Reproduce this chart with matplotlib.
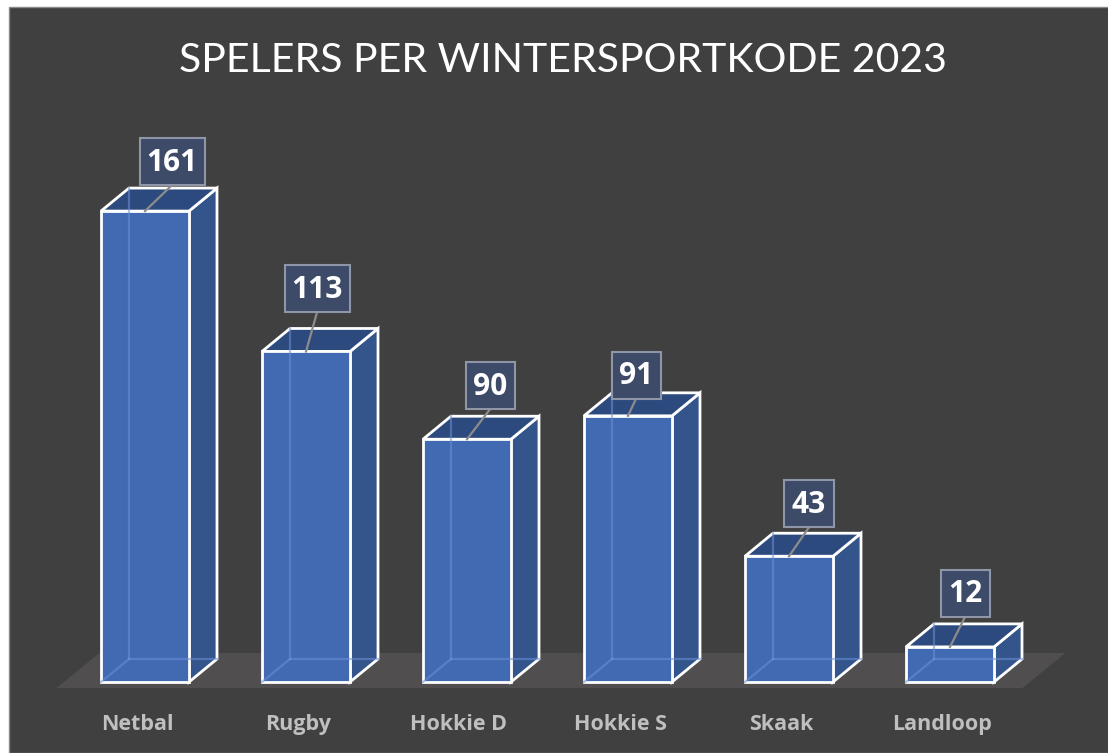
import matplotlib
matplotlib.use("Agg")
import matplotlib.pyplot as plt
from matplotlib.patches import Polygon, Rectangle

# data
categories = ["Netbal", "Rugby", "Hokkie D", "Hokkie S", "Skaak", "Landloop"]
heights = [161, 113, 83, 91, 43, 12]          # bar heights as drawn
labels = ["161", "113", "90", "91", "43", "12"]  # data labels as shown
title = "SPELERS PER WINTERSPORTKODE 2023"

# label box offsets in pixels (dx from bar centre, gap above bar top)
label_dx = [27, 11, 23, 8, 20, 15]
label_gap = [26, 39, 30, 17, 29, 30]

W, H = 1108, 753
SX = 161.0      # px per category
SY = 2.925      # px per unit
X0, Y0 = 145, 682  # px of first bar centre / baseline

BG = "#404040"
FRONT = "#416AB2"
SIDE = "#34548C"
TOP = "#2D4A7E"
EDGE = "white"

fig = plt.figure(figsize=(W / 100, H / 100), dpi=100, facecolor="white")
ax = fig.add_axes([0, 0, 1, 1])
ax.set_xlim((0 - X0) / SX, (W - X0) / SX)
ax.set_ylim((Y0 - H) / SY, Y0 / SY)
ax.axis("off")

# dark chart area with thin grey border
ax.add_patch(Rectangle((9 / W, 0), 1.1, (H - 7) / H, transform=ax.transAxes,
                       facecolor=BG, edgecolor="#8a8a8a", linewidth=1, zorder=0))

px = lambda p: p / SX
py = lambda p: p / SY

bw = px(88)
ddx, ddy = px(28), py(23)

# floor
n = len(categories)
fx0, fx1 = -0.55, n - 1 + 0.45
fy0 = py(-6)
fdx, fdy = px(43), py(35)
ax.add_patch(Polygon([(fx0, fy0), (fx1, fy0), (fx1 + fdx, fy0 + fdy), (fx0 + fdx, fy0 + fdy)],
                     closed=True, facecolor="#504e4f", edgecolor="none", zorder=1))

for i, (h, lab) in enumerate(zip(heights, labels)):
    l, r = i - bw / 2, i + bw / 2
    # faces
    ax.add_patch(Polygon([(r, 0), (r + ddx, ddy), (r + ddx, h + ddy), (r, h)],
                         closed=True, facecolor=SIDE, edgecolor=EDGE, linewidth=2, zorder=3))
    ax.add_patch(Polygon([(l, h), (r, h), (r + ddx, h + ddy), (l + ddx, h + ddy)],
                         closed=True, facecolor=TOP, edgecolor=EDGE, linewidth=2, zorder=3))
    ax.add_patch(Rectangle((l, 0), bw, h, facecolor=FRONT, edgecolor=EDGE,
                           linewidth=2, zorder=4))
    # hidden edges seen through the glassy bar
    hid = dict(color="#6b92d6", linewidth=1.6, alpha=0.55, zorder=5)
    ax.plot([l + ddx, l + ddx], [ddy, h + ddy], **hid)
    ax.plot([l + ddx, r + ddx], [ddy, ddy], **hid)
    ax.plot([l, l + ddx], [0, ddy], **hid)

    # data label box
    bwid = px(16 * len(lab) + 17)
    bhgt = py(47)
    cx = i + px(label_dx[i])
    by = h + py(label_gap[i])
    ax.plot([i, cx], [h, by], color="#8c8c8c", linewidth=1.6, zorder=6)
    ax.add_patch(Rectangle((cx - bwid / 2, by), bwid, bhgt, facecolor="#3d4a68",
                           edgecolor="#8e96a8", linewidth=1.5, zorder=7))
    ax.text(cx, by + bhgt / 2 - py(1), lab, ha="center", va="center", color="white",
            fontsize=21.5, fontweight="bold", family="Open Sans", zorder=8)

    # category label
    ax.text(i - px(8), py(-48), categories[i], ha="center", va="baseline",
            color="#BFBFBF", fontsize=15.5, fontweight="bold", family="Open Sans", zorder=8)

ax.text(px(563 - X0), py(Y0 - 60), title, ha="center", va="center", color="white",
        fontsize=29.5, family="Lato", zorder=8)

fig.savefig("out.png", dpi=100, facecolor=fig.get_facecolor())
